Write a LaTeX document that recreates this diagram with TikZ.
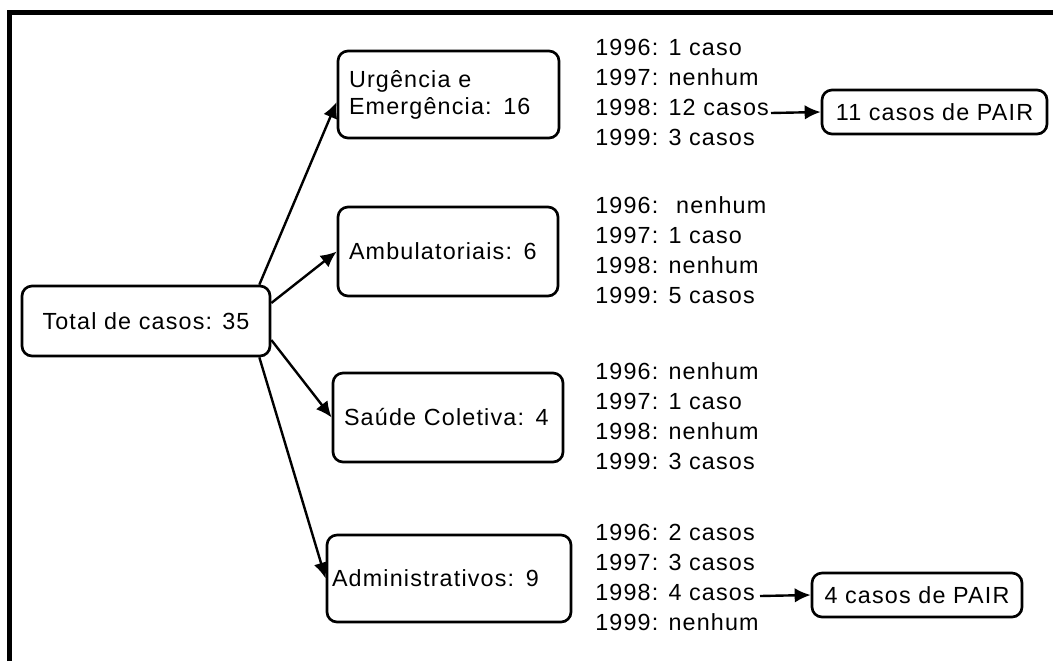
\documentclass[tikz,border=0pt]{standalone}
\usepackage{fontspec}
\setmainfont{Liberation Sans}[LetterSpace=5]
\usetikzlibrary{arrows.meta}

\tikzset{
    box/.style={draw, line width=2pt, rounded corners=7.5pt, inner xsep=8.25pt, align=left},
    years/.style={anchor=west, inner sep=0pt, align=left, font=\fontsize{17.5}{22.5}\selectfont},
    link/.style={line width=1.8pt, -{Latex[length=12pt,width=11pt]}}
}

\begin{document}
\begin{tikzpicture}[x=0.75pt, y=-0.75pt, font=\fontsize{17.5}{20.25}\selectfont]
    \useasboundingbox (0,0) rectangle (1053,661);

    % Frame (only left and top sides are visible)
    \draw[line width=3.4pt] (9.5,661) -- (9.5,12.5) -- (1053,12.5);

    % Define the positions of the arrow starts
    \coordinate (u98) at (771,113);
    \coordinate (a98) at (760,596);

    % Draw the boxes
    \node[box, minimum width=186pt, minimum height=52.5pt, align=center] (total) at (146,321) {Total de casos: 35};
    \node[box, minimum height=65.25pt, text width=149.25pt] (urg) at (448.5,94.5) {Urgência e\\Emergência: 16};
    \node[box, minimum height=66.75pt, text width=148.5pt] (amb) at (448,251.5) {Ambulatoriais: 6};
    \node[box, minimum height=66.75pt, text width=156pt] (sau) at (448,417.5) {Saúde Coletiva: 4};
    \node[box, minimum height=65.25pt, inner xsep=3.75pt, text width=175.5pt] (adm) at (449,578.5) {Administrativos: 9};
    \node[box, minimum width=168.75pt, minimum height=33pt, align=center] (p11) at (934.5,112) {11 casos de PAIR};
    \node[box, minimum width=157.5pt, minimum height=33pt, align=center] (p4) at (917,595) {4 casos de PAIR};

    % Draw the year lists
    \node[years] (uy) at (595,92) {1996: 1 caso\\1997: nenhum\\1998: 12 casos\\1999: 3 casos};
    \node[years] (ay) at (595,250) {1996: \ nenhum\\1997: 1 caso\\1998: nenhum\\1999: 5 casos};
    \node[years] (sy) at (595,416) {1996: nenhum\\1997: 1 caso\\1998: nenhum\\1999: 3 casos};
    \node[years] (dy) at (595,577) {1996: 2 casos\\1997: 3 casos\\1998: 4 casos\\1999: nenhum};

    % Draw the arrows
    \draw[link] ([xshift=-9pt]total.north east) -- ([yshift=-5.6pt]urg.west);
    \draw[link] ([yshift=13.5pt]total.east) -- (amb.west);
    \draw[link] ([yshift=-14.25pt]total.east) -- (sau.west);
    \draw[link] ([xshift=-9pt]total.south east) -- (adm.west);
    \draw[link] (u98) -- (p11.west);
    \draw[link] (a98) -- (p4.west);
\end{tikzpicture}
\end{document}
